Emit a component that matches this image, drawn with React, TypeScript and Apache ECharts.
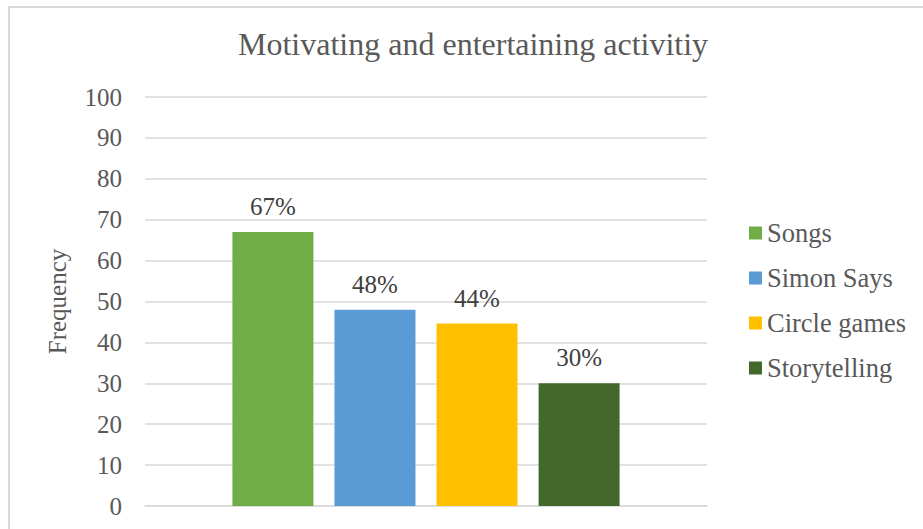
import React, { useEffect, useRef } from "react";
import * as echarts from "echarts";

const titleText = "Motivating and entertaining activitiy";
const seriesNames = ["Songs", "Simon Says", "Circle games", "Storytelling"];
const seriesValues = [67, 48, 44.6, 30];
const seriesLabels = ["67%", "48%", "44%", "30%"];
const seriesColors = ["#70AD47", "#5B9BD5", "#FFC000", "#43682B"];
const yAxisName = "Frequency";

const FONT = "Liberation Serif";

export default function App() {
  const ref = useRef<HTMLDivElement>(null);
  useEffect(() => {
    if (!ref.current) return;
    const chart = echarts.init(ref.current, undefined, { renderer: "svg" });
    chart.setOption({
      animation: false,
      backgroundColor: "#ffffff",
      textStyle: { fontFamily: FONT },
      graphic: [
        {
          type: "rect",
          shape: { x: 9, y: 7, width: 940, height: 560 },
          style: { fill: "none", stroke: "#d9d9d9", lineWidth: 2 },
          silent: true,
          z: -10,
        },
      ],
      title: {
        text: titleText,
        left: 233,
        top: 23,
        textStyle: { fontFamily: FONT, fontSize: 32, fontWeight: "normal", color: "#595959" },
      },
      legend: {
        orient: "vertical",
        left: 744,
        top: 214.5,
        itemWidth: 13,
        itemHeight: 13,
        itemGap: 18,
        icon: "rect",
        data: seriesNames,
        textStyle: { fontFamily: FONT, fontSize: 26.5, lineHeight: 26.5, color: "#595959" },
      },
      grid: { left: 145, right: 216, top: 97, bottom: 23, containLabel: false },
      xAxis: {
        type: "category",
        data: [""],
        axisLine: { lineStyle: { color: "#d9d9d9", width: 1.5 } },
        axisTick: { show: false },
        axisLabel: { show: false },
      },
      yAxis: {
        type: "value",
        min: 0,
        max: 100,
        interval: 10,
        name: yAxisName,
        nameLocation: "middle",
        nameRotate: 90,
        nameGap: 75,
        nameTextStyle: { fontFamily: FONT, fontSize: 25, color: "#595959" },
        axisLine: { show: false },
        axisTick: { show: false },
        axisLabel: { fontFamily: FONT, fontSize: 25, color: "#595959", margin: 23 },
        splitLine: { lineStyle: { color: "#d9d9d9", width: 1.5 } },
      },
      series: seriesNames.map((name, i) => ({
        name,
        type: "bar",
        data: [seriesValues[i]],
        barWidth: 81,
        barGap: "26%",
        itemStyle: { color: seriesColors[i] },
        label: {
          show: true,
          position: "top",
          distance: 13,
          formatter: () => seriesLabels[i],
          fontFamily: FONT,
          fontSize: 25,
          color: "#404040",
        },
      })),
    });
    return () => chart.dispose();
  }, []);
  return (
    <div
      ref={ref}
      style={{ position: "fixed", left: 0, top: 0, width: 923, height: 529 }}
    />
  );
}
